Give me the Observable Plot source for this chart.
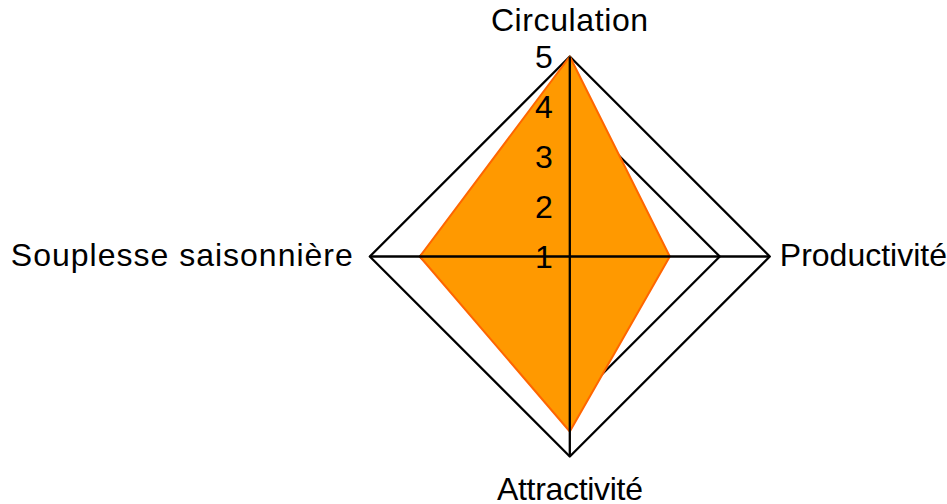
<!DOCTYPE html>
<html>
<head>
<meta charset="utf-8">
<script src="https://cdn.jsdelivr.net/npm/d3@7"></script>
<script src="https://cdn.jsdelivr.net/npm/@observablehq/plot@0.6"></script>
<style>
  html, body { margin: 0; padding: 0; background: #fff; }
  svg { display: block; }
</style>
</head>
<body>
<div id="chart"></div>
<script>
const axes = ["Circulation", "Productivité", "Attractivité", "Souplesse saisonnière"];
const values = [5, 3, 4.5, 4];
const gridLevels = [4, 5];
const tickValues = [1, 2, 3, 4, 5];
const minValue = 1;

const n = axes.length;
const angle = i => (2 * Math.PI * i) / n;
const px = (v, i) => (v - minValue) * Math.sin(angle(i));
const py = (v, i) => (v - minValue) * Math.cos(angle(i));

const rings = gridLevels.flatMap(level =>
  axes.map((a, i) => ({ level, x: px(level, i), y: py(level, i) })));
const series = axes.map((a, i) => ({ axis: a, x: px(values[i], i), y: py(values[i], i) }));
const spokes = axes.map((a, i) => ({ axis: a, i, x: px(5, i), y: py(5, i) }));
const ticks = tickValues.map(t => ({ t, x: 0, y: t - minValue }));

const font = "'Liberation Sans', Arial, sans-serif";
const fs = 32;
const chart = Plot.plot({
  width: 947,
  height: 504,
  margin: 0,
  x: { domain: [-11.386, 7.554], range: [0, 947], axis: null },
  y: { domain: [-4.96, 5.12], range: [504, 0], axis: null },
  style: { fontFamily: font, fontSize: fs + "px", color: "#000", background: "#fff" },
  marks: [
    Plot.line(rings, { x: "x", y: "y", z: "level", curve: "linear-closed", stroke: "#000", strokeWidth: 2.3 }),
    Plot.line(series, { x: "x", y: "y", curve: "linear-closed", fill: "#FF9900", stroke: "#FF6600", strokeWidth: 2 }),
    Plot.link(spokes, { x1: 0, y1: 0, x2: "x", y2: "y", stroke: "#000", strokeWidth: 2.3 }),
    Plot.text(ticks, { x: "x", y: "y", text: d => String(d.t), textAnchor: "end", lineAnchor: "middle", dx: -17, dy: 1, fontSize: fs, fill: "#000" }),
    Plot.text(spokes.filter(d => d.i === 0), { x: "x", y: "y", text: "axis", lineAnchor: "middle", dy: -36, fontSize: fs, fill: "#000" }),
    Plot.text(spokes.filter(d => d.i === 1), { x: "x", y: "y", text: "axis", textAnchor: "start", lineAnchor: "middle", dx: 10, dy: -1, fontSize: fs, fill: "#000" }),
    Plot.text(spokes.filter(d => d.i === 2), { x: "x", y: "y", text: "axis", lineAnchor: "middle", dy: 33, fontSize: fs, fill: "#000" }),
    Plot.text(spokes.filter(d => d.i === 3), { x: "x", y: "y", text: "axis", textAnchor: "end", lineAnchor: "middle", dx: -16, dy: -1, fontSize: fs, fill: "#000" })
  ]
});
const spacing = { "Circulation": 0.6, "Attractivité": -0.3, "Souplesse saisonnière": 1.0 };
d3.select(chart).selectAll("text").each(function () {
  const s = spacing[this.textContent];
  if (s !== undefined) d3.select(this).attr("letter-spacing", s);
});
document.getElementById("chart").appendChild(chart);
</script>
</body>
</html>
